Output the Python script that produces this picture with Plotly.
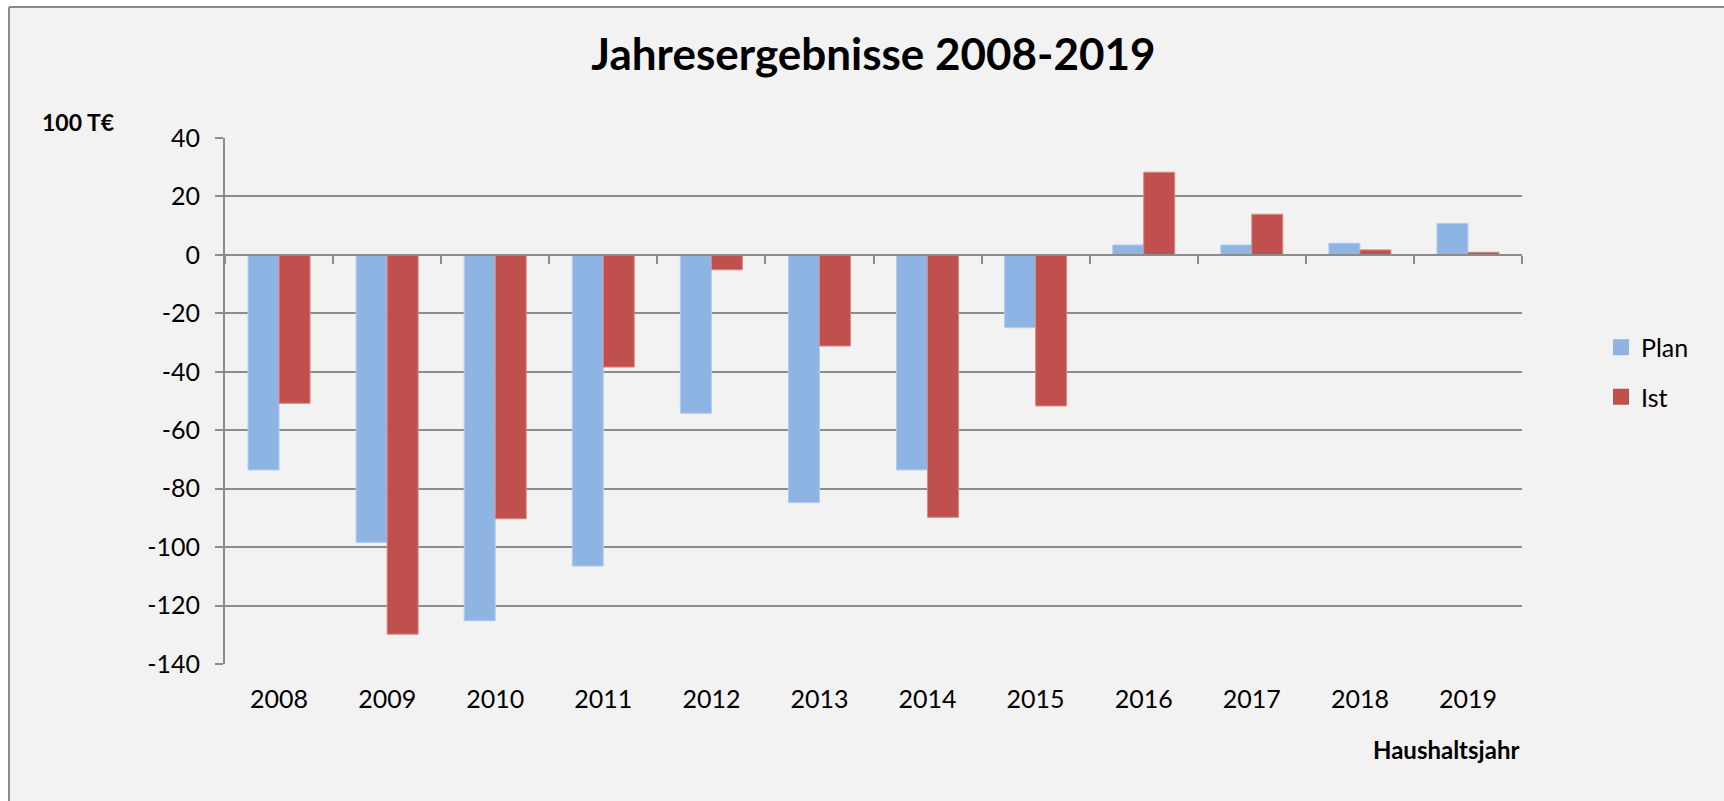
import plotly.graph_objects as go

years = ["2008", "2009", "2010", "2011", "2012", "2013", "2014", "2015", "2016", "2017", "2018", "2019"]
plan = [-73.6, -98.4, -125.2, -106.5, -54.2, -84.8, -73.6, -24.9, 3.4, 3.4, 4.0, 10.8]
ist = [-50.8, -129.8, -90.3, -38.4, -5.1, -31.2, -89.8, -51.7, 28.3, 13.9, 1.7, 0.9]
y_ticks = [40, 20, 0, -20, -40, -60, -80, -100, -120, -140]
y_tick_labels = ["40", "20", "0", "-20", "-40", "-60", "-80", "-100", "-120", "-140"]

title_text = "Jahresergebnisse 2008-2019"
y_unit = "100 T€"
x_title = "Haushaltsjahr"
plan_color = "#8eb4e3"
ist_color = "#c0504d"
grid_color = "#8c8c8c"
bg_color = "#f2f2f2"
border_color = "#8a8a8a"
FONT = "Lato"

PAGE_W, PAGE_H = 1724, 801
W, H = PAGE_W, PAGE_H
plot_left, plot_right, plot_top, plot_bottom = 225, 1522, 138, 664  # page px
L = plot_left
T = plot_top
R = PAGE_W - plot_right
B = PAGE_H - plot_bottom
pw = plot_right - plot_left
ph = plot_bottom - plot_top

def px_x(p):
    return (p - plot_left) / pw

def px_y(p):
    return (plot_bottom - p) / ph

fig = go.Figure()
fig.add_trace(go.Bar(x=years, y=plan, name="Plan", marker=dict(color=plan_color, line=dict(color="#b3cdee", width=1)), showlegend=False))
fig.add_trace(go.Bar(x=years, y=ist, name="Ist", marker=dict(color=ist_color, line=dict(color="#d98a88", width=1)), showlegend=False))
# legend entries
fig.add_trace(go.Scatter(x=[None], y=[None], mode="markers", name="Plan", legendgroup="a",
                         marker=dict(symbol="square", size=17, color=plan_color)))
fig.add_trace(go.Scatter(x=[None], y=[None], mode="markers", name="Ist", legendgroup="b",
                         marker=dict(symbol="square", size=17, color=ist_color)))
# category axis drawn at y = 0 with ticks on the category boundaries
n = len(years)
fig.add_trace(go.Scatter(x=[None], y=[None], xaxis="x2", showlegend=False, hoverinfo="skip"))

ymin, ymax = min(y_ticks), max(y_ticks)
zero_pos = (0 - ymin) / (ymax - ymin)

bx, by = 9, 7  # chart-frame border (left / top), page px
shapes = [
    dict(type="rect", xref="paper", yref="paper", x0=px_x(-20), x1=px_x(bx), y0=px_y(PAGE_H + 20), y1=px_y(-20),
         fillcolor="white", line=dict(width=0), layer="below"),
    dict(type="rect", xref="paper", yref="paper", x0=px_x(-20), x1=px_x(PAGE_W + 20), y0=px_y(by), y1=px_y(-20),
         fillcolor="white", line=dict(width=0), layer="below"),
    dict(type="line", xref="paper", yref="paper", x0=px_x(bx), x1=px_x(bx), y0=px_y(PAGE_H + 20), y1=px_y(by),
         line=dict(color=border_color, width=2), layer="below"),
    dict(type="line", xref="paper", yref="paper", x0=px_x(bx), x1=px_x(PAGE_W + 20), y0=px_y(by), y1=px_y(by),
         line=dict(color=border_color, width=2), layer="below"),
]

fig.update_layout(
    width=W, height=H,
    margin=dict(l=L, r=R, t=T, b=B),
    paper_bgcolor=bg_color,
    plot_bgcolor=bg_color,
    barmode="group",
    bargap=0.426,
    bargroupgap=0,
    font=dict(family=FONT, size=25, color="#000000"),
    title=dict(text=f"<b>{title_text}</b>", x=0.5, xref="paper", y=1 - 55 / H, yref="container",
               yanchor="middle", xanchor="center", font=dict(family=FONT, size=44, color="#000000")),
    xaxis=dict(type="category", categoryorder="array", categoryarray=years, showgrid=False,
               showline=False, ticks="", tickfont=dict(size=25), ticklabelstandoff=18,
               range=[-0.5, n - 0.5]),
    xaxis2=dict(overlaying="x", anchor="free", position=zero_pos, range=[-0.5, n - 0.5],
                tickvals=[i - 0.5 for i in range(n + 1)], showticklabels=False, ticks="outside",
                ticklen=8, tickwidth=2, tickcolor=grid_color, showline=True, linecolor=grid_color,
                linewidth=2, showgrid=False, zeroline=False),
    yaxis=dict(range=[ymin, ymax], tickvals=y_ticks, ticktext=y_tick_labels, showgrid=True,
               gridcolor=grid_color, gridwidth=2,
               zeroline=False, showline=True, linecolor=grid_color, linewidth=2, ticks="outside",
               ticklen=8, tickwidth=2, tickcolor=grid_color, tickfont=dict(size=25),
               ticklabelstandoff=10),
    legend=dict(x=px_x(1601), xanchor="left", y=px_y(372), yanchor="middle", font=dict(size=25),
                bgcolor="rgba(0,0,0,0)", traceorder="grouped", tracegroupgap=14, itemwidth=30),
    shapes=shapes,
    annotations=[
        dict(text=f"<b>{y_unit}</b>", xref="paper", yref="paper", x=px_x(40), y=px_y(122),
             xanchor="left", yanchor="middle", showarrow=False, font=dict(size=23)),
        dict(text=f"<b>{x_title}</b>", xref="paper", yref="paper", x=px_x(1521), y=px_y(749),
             xanchor="right", yanchor="middle", showarrow=False, font=dict(size=24)),
    ],
)

page_css = ("document.documentElement.style.margin='0';document.body.style.margin='0';"
            "document.documentElement.style.overflow='hidden';document.body.style.overflow='hidden';")
fig.write_html("out.html", post_script=page_css, config={"displayModeBar": False})
